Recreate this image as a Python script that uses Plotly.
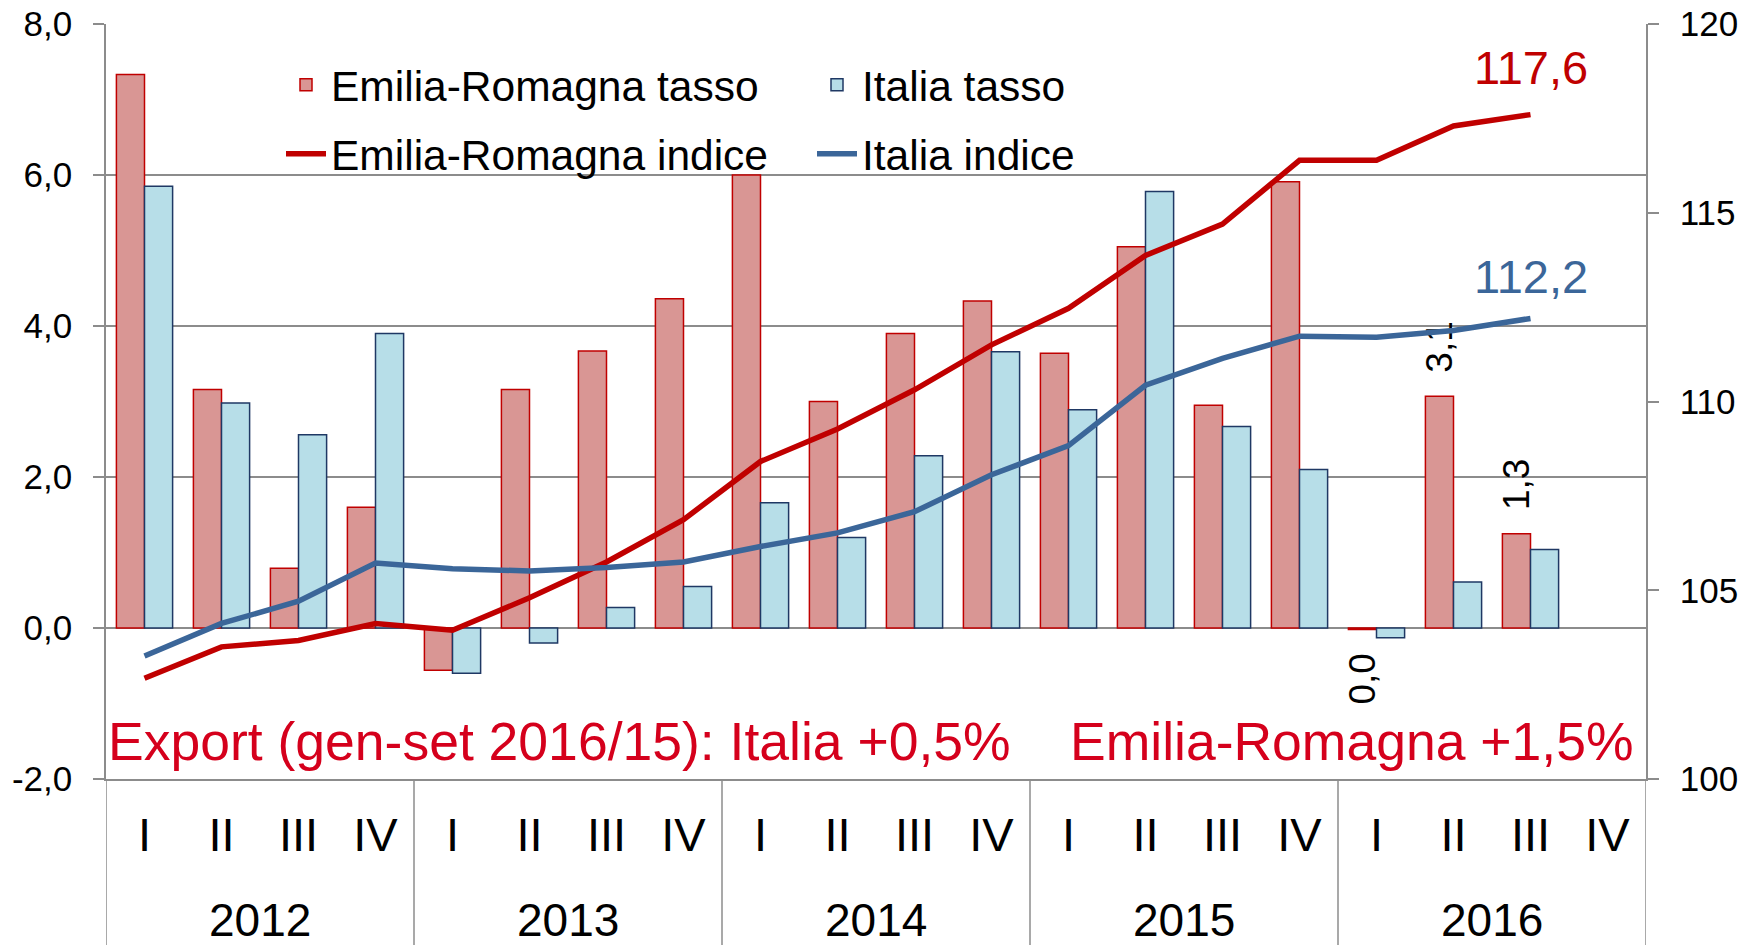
import plotly.graph_objects as go

# ---------------- data ----------------
years = ["2012", "2013", "2014", "2015", "2016"]
quarters = ["I", "II", "III", "IV"]
categories = [f"{y} {q}" for y in years for q in quarters]
quarter_labels = [q for y in years for q in quarters]

er_tasso = [7.33, 3.16, 0.79, 1.60,
            -0.56, 3.16, 3.67, 4.36,
            6.00, 3.00, 3.90, 4.33,
            3.64, 5.05, 2.95, 5.91,
            -0.02, 3.07, 1.25, None]
it_tasso = [5.85, 2.98, 2.56, 3.90,
            -0.60, -0.20, 0.27, 0.55,
            1.66, 1.20, 2.28, 3.66,
            2.89, 5.78, 2.67, 2.10,
            -0.13, 0.61, 1.04, None]
er_indice = [102.67, 103.50, 103.67, 104.12,
             103.94, 104.80, 105.75, 106.87,
             108.41, 109.27, 110.31, 111.50,
             112.47, 113.87, 114.70, 116.39,
             116.39, 117.30, 117.60, None]
it_indice = [103.26, 104.12, 104.71, 105.72,
             105.57, 105.51, 105.60, 105.75,
             106.16, 106.52, 107.08, 108.06,
             108.83, 110.43, 111.14, 111.73,
             111.70, 111.88, 112.20, None]
er_bar_labels = [""] * 16 + ["0,0", "3,1", "1,3", ""]

y_left_ticks = [-2, 0, 2, 4, 6, 8]
y_left_labels = ["-2,0", "0,0", "2,0", "4,0", "6,0", "8,0"]
y_right_ticks = [100, 105, 110, 115, 120]

note_left = "Export (gen-set 2016/15): Italia +0,5%"
note_right = "Emilia-Romagna +1,5%"

# ---------------- style ----------------
FONT = "Arial, Liberation Sans, sans-serif"
GRID = "#8c8c8c"
ER_FILL, ER_LINE = "#d99694", "#c00000"
IT_FILL, IT_LINE = "#b7dee8", "#1f3864"
IT_IDX = "#3b6699"
NOTE_RED = "#d5001c"
NBSP = "\u00a0"

W, H = 1749, 945
ML, MR, MT, MB = 106, 103, 24, 166
PW, PH = W - ML - MR, H - MT - MB

# padding the rotated labels away from the bar ends
bar_text = []
for lab, v in zip(er_bar_labels, er_tasso):
    if not lab:
        bar_text.append("")
    elif v is not None and v < 0:
        bar_text.append(lab + NBSP * 2)
    else:
        bar_text.append(NBSP * 2 + lab)

fig = go.Figure()

fig.add_trace(go.Bar(
    x=categories, y=er_tasso, name="Emilia-Romagna tasso",
    marker=dict(color=ER_FILL, line=dict(color=ER_LINE, width=1.5)),
    text=bar_text, textposition="outside", textangle=-90,
    textfont=dict(family=FONT, size=37, color="black"),
    constraintext="none", cliponaxis=False, legend="legend",
))
fig.add_trace(go.Bar(
    x=categories, y=it_tasso, name="Italia tasso",
    marker=dict(color=IT_FILL, line=dict(color=IT_LINE, width=1.5)),
    legend="legend",
))
fig.add_trace(go.Scatter(
    x=categories, y=er_indice, name="Emilia-Romagna indice", mode="lines",
    line=dict(color=ER_LINE, width=5.5), yaxis="y2", legend="legend2",
))
fig.add_trace(go.Scatter(
    x=categories, y=it_indice, name="Italia indice", mode="lines",
    line=dict(color=IT_IDX, width=5.5), yaxis="y2", legend="legend2",
))

# end-value labels on the index lines
last = 18
fig.add_annotation(x=categories[last], y=er_indice[last], xref="x", yref="y2",
                   text=f"{er_indice[last]:.1f}".replace(".", ","), showarrow=False,
                   yshift=47, font=dict(family=FONT, size=47, color=ER_LINE))
fig.add_annotation(x=categories[last], y=it_indice[last], xref="x", yref="y2",
                   text=f"{it_indice[last]:.1f}".replace(".", ","), showarrow=False,
                   yshift=42, font=dict(family=FONT, size=47, color=IT_IDX))

# notes
fig.add_annotation(x=(106 - ML) / PW, xref="paper", xanchor="left", y=-1.5, yref="y",
                   yanchor="middle", text=note_left, showarrow=False,
                   font=dict(family=FONT, size=53.5, color=NOTE_RED))
fig.add_annotation(x=(1068 - ML) / PW, xref="paper", xanchor="left",
                   y=-1.5, yref="y", yanchor="middle", text=note_right,
                   showarrow=False, font=dict(family=FONT, size=53.5, color=NOTE_RED))

# year labels and separators under the category axis
for i, y in enumerate(years):
    fig.add_annotation(x=4 * i + 1.5, xref="x", y=-(920 - 779) / PH,
                       yref="paper", yanchor="middle", text=y, showarrow=False,
                       font=dict(family=FONT, size=46, color="black"))
for i in range(len(years) + 1):
    fig.add_shape(type="line", xref="x", yref="paper", x0=4 * i - 0.5, x1=4 * i - 0.5,
                  y0=0, y1=-0.3, line=dict(color=GRID, width=1.5))

fig.update_layout(
    width=W, height=H, autosize=False,
    margin=dict(l=ML, r=MR, t=MT, b=MB, pad=0, autoexpand=False),
    paper_bgcolor="white", plot_bgcolor="white",
    separators=",.",
    barmode="group", bargap=0.27, bargroupgap=0,
    font=dict(family=FONT, color="black"),
    xaxis=dict(
        type="category", range=[-0.5, 19.5], automargin=False,
        tickmode="array", tickvals=categories, ticktext=quarter_labels,
        tickfont=dict(family=FONT, size=47), ticks="", ticklabelstandoff=14,
        showline=True, linecolor=GRID, linewidth=1.5, showgrid=False,
    ),
    yaxis=dict(
        range=[-2, 8], automargin=False,
        tickmode="array", tickvals=y_left_ticks, ticktext=y_left_labels,
        tickfont=dict(family=FONT, size=35), ticks="outside", ticklen=11,
        tickcolor=GRID, tickwidth=1.5, ticklabelstandoff=14,
        showline=True, linecolor=GRID, linewidth=1.5,
        showgrid=True, gridcolor=GRID, gridwidth=1.5, zeroline=False,
    ),
    yaxis2=dict(
        overlaying="y", side="right", range=[100, 120], automargin=False,
        tickmode="array", tickvals=y_right_ticks,
        ticktext=[str(v) for v in y_right_ticks],
        tickfont=dict(family=FONT, size=35), ticks="outside", ticklen=11,
        tickcolor=GRID, tickwidth=1.5, ticklabelstandoff=14,
        showline=True, linecolor=GRID, linewidth=1.5, showgrid=False, zeroline=False,
    ),
    legend=dict(orientation="h", x=(281 - ML) / PW, xanchor="left",
                y=1 - (85 - MT) / PH, yanchor="middle",
                font=dict(family=FONT, size=42.5), bgcolor="rgba(0,0,0,0)",
                entrywidth=476, itemwidth=40, traceorder="normal"),
    legend2=dict(orientation="h", x=(281 - ML) / PW, xanchor="left",
                 y=1 - (154 - MT) / PH, yanchor="middle",
                 font=dict(family=FONT, size=42.5), bgcolor="rgba(0,0,0,0)",
                 entrywidth=476, itemwidth=40, traceorder="normal"),
    showlegend=True,
)

fig.write_html("out.html", config={"displayModeBar": False},
               post_script="document.body.style.margin='0';document.body.style.overflow='hidden';")
